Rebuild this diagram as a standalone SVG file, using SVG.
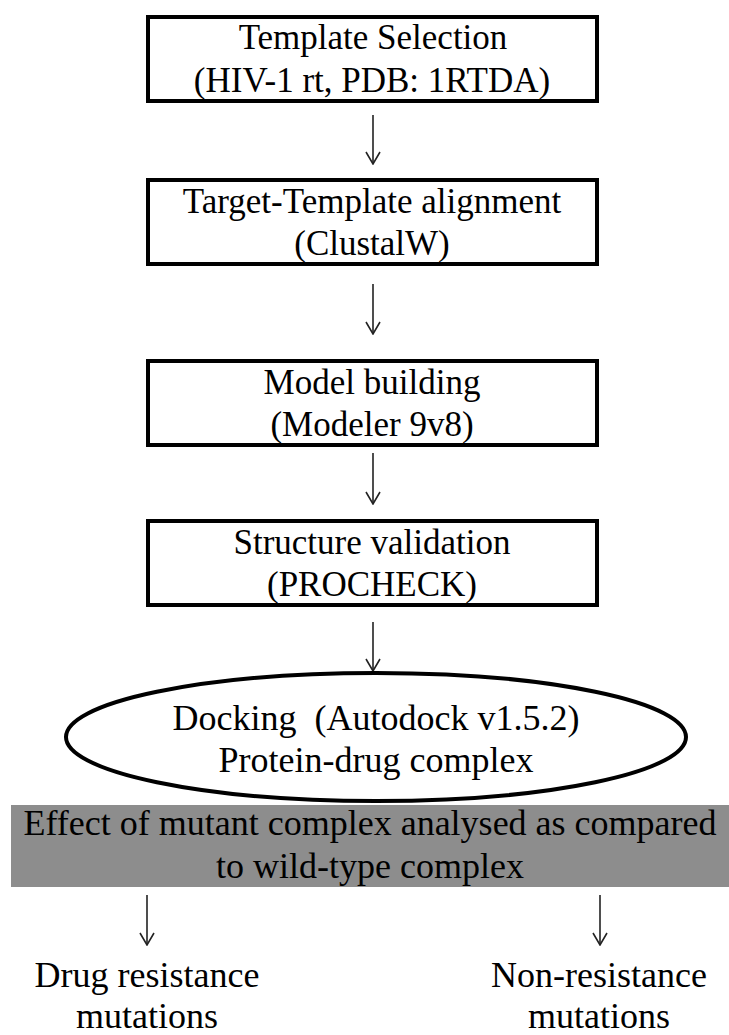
<svg xmlns="http://www.w3.org/2000/svg" width="729" height="1035" viewBox="0 0 729 1035">
  <style>
    .box { fill: #ffffff; stroke: #000000; stroke-width: 4; }
    .lbl { font-family: "Liberation Serif", "Times New Roman", serif; font-size: 35px; fill: #000000; text-anchor: middle; }
    .big { font-size: 36px; }
    .arr { stroke: #222222; stroke-width: 1.6; fill: none; marker-end: url(#head); }
  </style>
  <defs>
    <!-- open V arrowhead, drawn pointing along +x, tip at the line end -->
    <marker id="head" viewBox="0 0 14 16" refX="13" refY="8" markerWidth="14" markerHeight="16" markerUnits="userSpaceOnUse" orient="auto">
      <path d="M1,1 L13,8 L1,15" fill="none" stroke="#222222" stroke-width="1.6"/>
    </marker>
  </defs>
  <rect width="729" height="1035" fill="#ffffff"/>

  <g id="connectors">
    <line class="arr" x1="373" y1="115" x2="373" y2="164"/>
    <line class="arr" x1="373" y1="284" x2="373" y2="334"/>
    <line class="arr" x1="373" y1="453" x2="373" y2="504"/>
    <line class="arr" x1="373" y1="622" x2="373" y2="671"/>
    <line class="arr" x1="147" y1="895" x2="147" y2="945"/>
    <line class="arr" x1="600" y1="895" x2="600" y2="945"/>
  </g>

  <g id="template-selection">
    <rect class="box" x="148" y="17" width="449" height="84"/>
    <text class="lbl" x="373" y="49">Template Selection</text>
    <text class="lbl" x="372" y="92">(HIV-1 rt, PDB: 1RTDA)</text>
  </g>

  <g id="alignment">
    <rect class="box" x="148" y="180" width="449" height="84"/>
    <text class="lbl" x="372" y="213">Target-Template alignment</text>
    <text class="lbl" x="372" y="255">(ClustalW)</text>
  </g>

  <g id="model-building">
    <rect class="box" x="148" y="361" width="449" height="84"/>
    <text class="lbl" x="372" y="394">Model building</text>
    <text class="lbl" x="372" y="436">(Modeler 9v8)</text>
  </g>

  <g id="structure-validation">
    <rect class="box" x="148" y="521" width="449" height="84"/>
    <text class="lbl" x="372" y="554">Structure validation</text>
    <text class="lbl" x="372" y="596">(PROCHECK)</text>
  </g>

  <g id="docking">
    <ellipse cx="376" cy="737" rx="310" ry="64" fill="#ffffff" stroke="#000000" stroke-width="4"/>
    <text class="lbl big" x="376" y="730" xml:space="preserve">Docking  (Autodock v1.5.2)</text>
    <text class="lbl big" x="376" y="772">Protein-drug complex</text>
  </g>

  <g id="comparison">
    <rect x="11" y="805" width="718" height="82" fill="#8d8d8d"/>
    <text class="lbl big" x="370" y="835">Effect of mutant complex analysed as compared</text>
    <text class="lbl big" x="370" y="878">to wild-type complex</text>
  </g>

  <g id="drug-resistance">
    <text class="lbl big" x="147" y="987">Drug resistance</text>
    <text class="lbl big" x="147" y="1028">mutations</text>
  </g>

  <g id="non-resistance">
    <text class="lbl big" x="599" y="987">Non-resistance</text>
    <text class="lbl big" x="599" y="1028">mutations</text>
  </g>
</svg>
